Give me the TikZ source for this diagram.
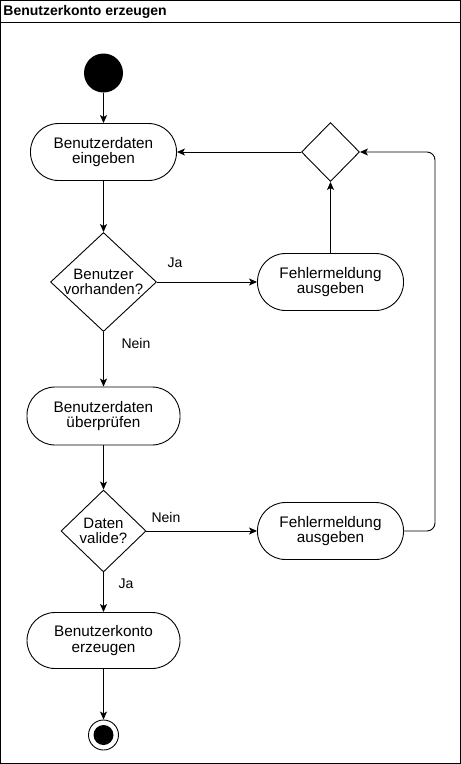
\documentclass[tikz,border=0pt]{standalone}
\usepackage{fontspec}
\setmainfont{Liberation Sans}
\usetikzlibrary{arrows.meta,shapes.geometric}
\begin{document}
\begin{tikzpicture}[x=1pt,y=-1pt, line width=0.9pt,
 act/.style={draw, rectangle, rounded corners=28pt, minimum width=146pt, minimum height=57pt, inner sep=0pt, align=center, font=\fontsize{15.3}{15.5}\selectfont},
 dec/.style={draw, diamond, inner sep=0pt},
 txt/.style={align=center, font=\fontsize{15}{15.5}\selectfont, inner sep=0pt},
 lbl/.style={font=\fontsize{14}{15}\selectfont, inner sep=0pt},
 arr/.style={-{Stealth[length=8pt,width=7pt,inset=2pt]}}]
\useasboundingbox (0,0) rectangle (461,764);
\draw (0.5,0.5) rectangle (460.5,763.5);
\draw (0.5,22.5) -- (460.5,22.5);
\node[anchor=west, font=\bfseries\fontsize{14}{15}\selectfont, inner sep=0pt] (title) at (3,12) {Benutzerkonto erzeugen};
\node[circle, fill, minimum size=39pt, inner sep=0pt] (start) at (103.5,73) {};
\node[act] (n1) at (103.5,152) {Benutzerdaten\\eingeben};
\node[dec, minimum width=106pt, minimum height=99pt] (d1) at (103.5,282) {};
\node[txt] (d1t) at (d1) {Benutzer\\vorhanden?};
\node[act] (f1) at (330.5,282) {Fehlermeldung\\ausgeben};
\node[dec, minimum width=58pt, minimum height=59pt] (m) at (330.5,152) {};
\node[act, minimum width=153pt, minimum height=58pt] (n2) at (103.5,416) {Benutzerdaten\\überprüfen};
\node[dec, minimum width=85pt, minimum height=82pt] (d2) at (103.5,531) {};
\node[txt] (d2t) at (d2) {Daten\\valide?};
\node[act] (f2) at (330.5,531) {Fehlermeldung\\ausgeben};
\node[act, minimum width=153pt, minimum height=56pt] (n3) at (103.5,640.5) {Benutzerkonto\\erzeugen};
\node[circle, draw, minimum size=30pt, inner sep=0pt] (end) at (103.5,735) {};
\node[circle, fill, minimum size=20pt, inner sep=0pt] (endi) at (end) {};
\coordinate (loop) at (435,531);
\draw[arr] (start) -- (n1);
\draw[arr] (n1) -- (d1);
\draw[arr] (d1) -- (f1);
\draw[arr] (f1) -- (m);
\draw[arr] (m) -- (n1);
\draw[arr] (d1) -- (n2);
\draw[arr] (n2) -- (d2);
\draw[arr] (d2) -- (f2);
\draw[arr, rounded corners=8pt] (f2.east) -- (loop) |- (m.east);
\draw[arr] (d2) -- (n3);
\draw[arr] (n3) -- (end);
\node[lbl] (l1) at (175,263) {Ja};
\node[lbl] (l2) at (136,343) {Nein};
\node[lbl] (l3) at (166,517) {Nein};
\node[lbl] (l4) at (126,584) {Ja};
\end{tikzpicture}
\end{document}
